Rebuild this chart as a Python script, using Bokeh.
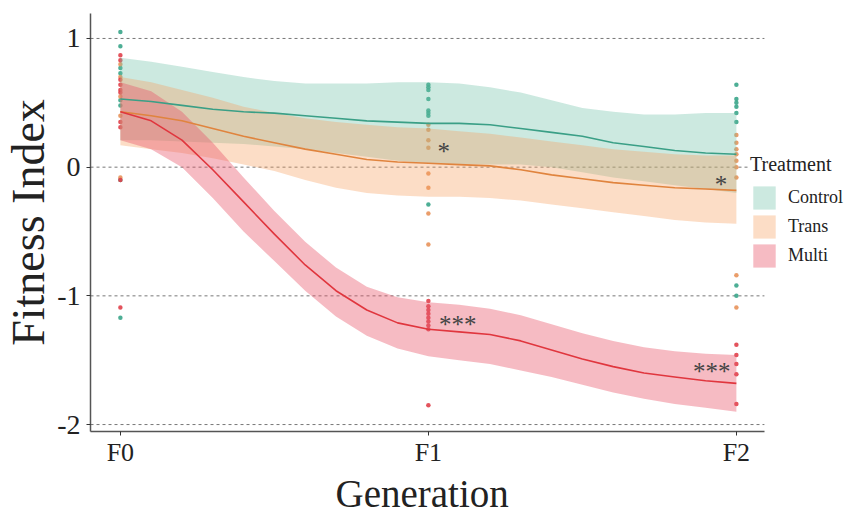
from bokeh.plotting import figure
from bokeh.models import ColumnDataSource, FixedTicker, Legend, LegendItem, Range1d, Title
from bokeh.core.properties import value
from bokeh.embed import file_html
from bokeh.resources import INLINE

# ---------------- data ----------------
generations = ["F0", "F1", "F2"]
gen_pos = [0, 1, 2]
treatments = ["Control", "Trans", "Multi"]

# smoothed fits (at generation steps of 0.1)
smooth_x = [0.0, 0.1, 0.2, 0.3, 0.4, 0.5, 0.6, 0.7, 0.8, 0.9, 1.0,
            1.1, 1.2, 1.3, 1.4, 1.5, 1.6, 1.7, 1.8, 1.9, 2.0]

control_fit = [0.53, 0.51, 0.48, 0.45, 0.43, 0.42, 0.40, 0.38, 0.36, 0.35, 0.34,
               0.34, 0.33, 0.30, 0.27, 0.24, 0.19, 0.16, 0.13, 0.11, 0.10]
control_hi = [0.85, 0.82, 0.78, 0.74, 0.70, 0.67, 0.65, 0.65, 0.65, 0.66, 0.66,
              0.65, 0.62, 0.58, 0.52, 0.46, 0.43, 0.41, 0.41, 0.42, 0.42]
control_lo = [0.21, 0.21, 0.20, 0.19, 0.18, 0.16, 0.14, 0.11, 0.08, 0.05, 0.03,
              0.02, 0.02, 0.02, 0.00, -0.04, -0.08, -0.11, -0.14, -0.17, -0.20]

trans_fit = [0.43, 0.40, 0.36, 0.30, 0.24, 0.19, 0.14, 0.10, 0.06, 0.04, 0.03,
             0.02, 0.01, -0.02, -0.06, -0.09, -0.12, -0.14, -0.16, -0.17, -0.18]
trans_hi = [0.70, 0.66, 0.60, 0.54, 0.47, 0.42, 0.38, 0.35, 0.33, 0.31, 0.30,
            0.28, 0.26, 0.23, 0.20, 0.17, 0.14, 0.12, 0.10, 0.09, 0.09]
trans_lo = [0.17, 0.14, 0.11, 0.07, 0.02, -0.03, -0.10, -0.16, -0.20, -0.22, -0.23,
            -0.23, -0.24, -0.26, -0.29, -0.32, -0.35, -0.38, -0.41, -0.43, -0.44]

multi_fit = [0.43, 0.36, 0.21, -0.02, -0.27, -0.52, -0.76, -0.96, -1.11, -1.21, -1.26,
             -1.28, -1.30, -1.35, -1.42, -1.49, -1.55, -1.60, -1.63, -1.66, -1.68]
multi_hi = [0.66, 0.59, 0.43, 0.19, -0.08, -0.34, -0.58, -0.78, -0.93, -1.01, -1.05,
            -1.07, -1.10, -1.15, -1.22, -1.29, -1.35, -1.40, -1.43, -1.45, -1.46]
multi_lo = [0.21, 0.14, 0.00, -0.24, -0.50, -0.73, -0.96, -1.16, -1.31, -1.41, -1.47,
            -1.50, -1.53, -1.58, -1.63, -1.69, -1.75, -1.80, -1.84, -1.87, -1.90]

# raw fitness index values per generation
control_f0 = [1.05, 0.94, 0.77, 0.73, 0.52, 0.48, -0.10, -1.17]
control_f1 = [0.64, 0.62, 0.60, 0.53, 0.44, 0.42, 0.40, -0.29]
control_f2 = [0.64, 0.53, 0.50, 0.47, 0.42, 0.35, -0.92, -1.00]

trans_f0 = [0.80, 0.70, 0.55, 0.40, -0.08]
trans_f1 = [0.33, 0.29, 0.21, 0.15, -0.05, -0.16, -0.36, -0.60]
trans_f2 = [0.25, 0.19, 0.14, 0.10, 0.05, 0.00, -0.08, -0.84, -1.09]

multi_f0 = [0.87, 0.83, 0.68, 0.64, 0.60, 0.58, 0.35, 0.31, -0.10, -1.09]
multi_f1 = [-1.04, -1.08, -1.11, -1.14, -1.17, -1.20, -1.23, -1.26, -1.85]
multi_f2 = [-1.38, -1.46, -1.53, -1.61, -1.84]

# significance marks
sig_text = ["*", "***", "*", "***"]
sig_gen = [1.05, 1.095, 1.95, 1.92]
sig_val = [0.15, -1.19, -0.10, -1.56]

y_ticks = [-2, -1, 0, 1]
y_tick_labels = ["-2", "-1", "0", "1"]

# ---------------- layout / styling ----------------
X_START, X_PANEL_END, X_FRAME_END = -0.097, 2.091, 2.364
Y_START, Y_END = -2.054, 1.194
SERIF = "Liberation Serif"
line_cols = {"Control": "#3a9f86", "Trans": "#e0843e", "Multi": "#e0363e"}
band_cols = {"Control": "#6cc0a6", "Trans": "#f59d5c", "Multi": "#e8566a"}
band_alpha = {"Control": 0.35, "Trans": 0.35, "Multi": 0.40}
pt_cols = {"Control": "#3aa58a", "Trans": "#e8925a", "Multi": "#e0404a"}

p = figure(width=848, height=514, output_backend="svg", toolbar_location=None,
           x_range=Range1d(X_START, X_FRAME_END), y_range=Range1d(Y_START, Y_END),
           min_border_left=90, min_border_right=0, min_border_top=13,
           min_border_bottom=82)
p.outline_line_color = None
p.background_fill_color = "white"
p.border_fill_color = "white"

# dashed horizontal reference lines (panel grid)
p.segment(x0=[X_START] * len(y_ticks), x1=[X_PANEL_END] * len(y_ticks),
          y0=y_ticks, y1=y_ticks, line_color="#777777", line_dash="3 3",
          line_width=1)

fits = {"Control": (control_fit, control_lo, control_hi),
        "Trans": (trans_fit, trans_lo, trans_hi),
        "Multi": (multi_fit, multi_lo, multi_hi)}
pts = {"Control": [control_f0, control_f1, control_f2],
       "Trans": [trans_f0, trans_f1, trans_f2],
       "Multi": [multi_f0, multi_f1, multi_f2]}

for t in treatments:
    xs, ys = [], []
    for g, vals in zip(gen_pos, pts[t]):
        xs += [g] * len(vals)
        ys += vals
    p.scatter(xs, ys, size=4.5, color=pt_cols[t], line_color=None, alpha=0.9)

band_renderers = {}
for t in treatments:
    fit, lo, hi = fits[t]
    src = ColumnDataSource(dict(x=smooth_x, lo=lo, hi=hi))
    band_renderers[t] = p.varea(x="x", y1="lo", y2="hi", source=src,
                                fill_color=band_cols[t], fill_alpha=band_alpha[t])
for t in treatments:
    fit, lo, hi = fits[t]
    src = ColumnDataSource(dict(x=smooth_x, fit=fit))
    p.line(x="x", y="fit", source=src, line_color=line_cols[t], line_width=1.6,
           line_join="round")

sig_src = ColumnDataSource(dict(x=sig_gen, y=sig_val, t=sig_text))
p.text(x="x", y="y", text="t", source=sig_src, text_font=value(SERIF),
       text_font_size="25px", text_color="#444444", text_align="center",
       text_baseline="middle", y_offset=4)

# axes
p.xaxis.ticker = FixedTicker(ticks=gen_pos)
p.xaxis.major_label_overrides = {g: lab for g, lab in zip(gen_pos, generations)}
p.xaxis.bounds = (X_START, X_PANEL_END)
p.yaxis.ticker = FixedTicker(ticks=y_ticks)
p.yaxis.major_label_overrides = {v: lab for v, lab in zip(y_ticks, y_tick_labels)}
for ax in (p.xaxis[0], p.yaxis[0]):
    ax.axis_line_color = "#555555"
    ax.axis_line_width = 1.5
    ax.major_tick_line_color = "#333333"
    ax.major_tick_out = 4
    ax.major_tick_in = 0
    ax.minor_tick_line_color = None
    ax.major_label_text_font = SERIF
    ax.major_label_text_font_size = "28px"
    ax.major_label_text_color = "#222222"
    ax.axis_label_text_font = SERIF
    ax.axis_label_text_font_style = "normal"
    ax.axis_label_text_color = "#222222"
p.xaxis.major_label_text_font_size = "26px"
p.yaxis.axis_label = "Fitness Index"
p.yaxis.axis_label_text_font_size = "46px"
p.xaxis.major_label_standoff = 2
p.yaxis.major_label_standoff = 6
p.yaxis.axis_label_standoff = 0

# x-axis title, centred under the panel (not the whole frame)
x_title = Title(text="Generation", align="left", offset=245,
                text_font=SERIF, text_font_size="39px", text_font_style="normal",
                text_color="#222222", standoff=0)
p.add_layout(x_title, "below")

p.xgrid.grid_line_color = None
p.ygrid.grid_line_color = None

legend = Legend(items=[LegendItem(label=t, renderers=[band_renderers[t]]) for t in treatments],
                location=(660, 161), title="Treatment",
                title_text_font=SERIF, title_text_font_size="20px",
                title_text_font_style="normal", title_text_color="#222222",
                title_standoff=7,
                label_text_font=SERIF, label_text_font_size="18px",
                label_text_color="#222222", label_standoff=10,
                glyph_width=28, glyph_height=29, label_height=29,
                spacing=0, padding=6, margin=0,
                border_line_color=None, background_fill_color="white",
                background_fill_alpha=1)
p.add_layout(legend)

open("out.html", "w").write(file_html(p, INLINE))
